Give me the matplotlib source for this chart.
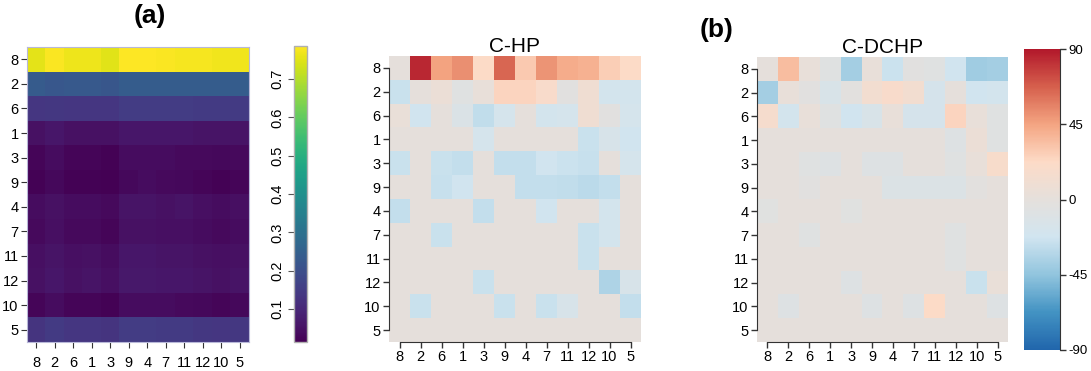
import numpy as np
import matplotlib
matplotlib.use("Agg")
import matplotlib.pyplot as plt
from matplotlib.colors import LinearSegmentedColormap
from matplotlib.ticker import FuncFormatter

plt.rcParams['font.family'] = ['Liberation Sans', 'DejaVu Sans']

labels = ['8', '2', '6', '1', '3', '9', '4', '7', '11', '12', '10', '5']

# panel (a) left: proportions (viridis)
prop = np.array([
    [0.755, 0.780, 0.765, 0.765, 0.750, 0.785, 0.785, 0.780, 0.775, 0.775, 0.770, 0.770],
    [0.235, 0.225, 0.230, 0.230, 0.220, 0.240, 0.240, 0.240, 0.240, 0.240, 0.240, 0.240],
    [0.135, 0.140, 0.135, 0.135, 0.135, 0.150, 0.150, 0.150, 0.150, 0.145, 0.145, 0.145],
    [0.050, 0.060, 0.050, 0.050, 0.050, 0.060, 0.060, 0.060, 0.060, 0.055, 0.055, 0.055],
    [0.025, 0.040, 0.025, 0.025, 0.020, 0.040, 0.040, 0.040, 0.035, 0.035, 0.030, 0.035],
    [0.020, 0.030, 0.020, 0.020, 0.014, 0.030, 0.040, 0.035, 0.030, 0.025, 0.020, 0.025],
    [0.040, 0.050, 0.040, 0.040, 0.035, 0.055, 0.055, 0.050, 0.055, 0.045, 0.040, 0.045],
    [0.035, 0.045, 0.035, 0.035, 0.025, 0.050, 0.050, 0.045, 0.045, 0.040, 0.035, 0.040],
    [0.045, 0.055, 0.045, 0.050, 0.040, 0.060, 0.060, 0.055, 0.055, 0.050, 0.045, 0.050],
    [0.050, 0.060, 0.050, 0.055, 0.045, 0.065, 0.065, 0.060, 0.060, 0.055, 0.050, 0.055],
    [0.025, 0.040, 0.025, 0.025, 0.020, 0.040, 0.040, 0.040, 0.035, 0.030, 0.025, 0.030],
    [0.130, 0.145, 0.135, 0.135, 0.130, 0.150, 0.150, 0.145, 0.145, 0.140, 0.135, 0.140],
])

# C-HP differences
chp = np.array([
    [0, 85, 45, 52, 22, 65, 30, 50, 42, 40, 28, 22],
    [-25, 0, 6, -7, 3, 25, 25, 18, -4, 10, -20, -20],
    [4, -22, 0, -12, -28, -18, 0, -20, -18, 10, -4, -18],
    [0, 0, 0, 0, -18, 0, 0, 0, 0, -25, -15, -22],
    [-25, 0, -25, -27, 0, -27, -27, -22, -24, -26, 0, -18],
    [0, 0, -26, -22, 0, 0, -27, -27, -28, -30, -27, 0],
    [-27, 0, 0, 0, -27, 0, 0, -22, 0, 0, -20, 0],
    [0, 0, -25, 0, 0, 0, 0, 0, 0, -25, -20, 0],
    [0, 0, 0, 0, 0, 0, 0, 0, 0, -25, 0, 0],
    [0, 0, 0, 0, -25, 0, 0, 0, 0, 0, -35, -15],
    [0, -25, 0, 0, 0, -25, 0, -25, -15, 0, 0, -27],
    [0, 0, 0, 0, 0, 0, 0, 0, 0, 0, 0, 0],
])

# C-DCHP differences
cdchp = np.array([
    [0, 35, 3, -7, -38, 3, -24, -4, -7, -22, -40, -38],
    [-38, 3, -4, -14, -3, 12, 18, 12, -17, 0, -22, -20],
    [15, -20, 3, -7, -22, -14, 3, -17, -17, 25, 3, -7],
    [0, 0, 0, 0, 0, 0, 0, 0, 0, -8, 6, -6],
    [0, 0, -7, -8, 0, -8, -8, 0, 0, -7, 3, 17],
    [0, 0, -4, 0, 0, 0, -10, -10, -10, -11, -3, 0],
    [-5, 0, 0, 0, -5, 0, 0, 0, 0, 0, 0, 0],
    [0, 0, -7, 0, 0, 0, 0, 0, 0, -7, 0, 0],
    [0, 0, 0, 0, 0, 0, 0, 0, 0, -7, 0, 0],
    [0, 0, 0, 0, -8, 0, 0, 0, 0, 0, -25, 4],
    [0, -8, 0, 0, 0, -8, 0, -8, 22, 0, 0, -8],
    [0, 0, 0, 0, 0, 0, 0, 0, 0, 0, 0, 0],
])

rdbu = LinearSegmentedColormap.from_list('rdbu', [
    "#2166AC", "#4393C3", "#92C5DE", "#D1E5F0", "#E5E0DC",
    "#FDDBC7", "#F4A582", "#D6604D", "#B2182B"])

W, H = 1091, 371
fig = plt.figure(figsize=(W / 100, H / 100), dpi=100)

def box(x0, y0, x1, y1):
    return [x0 / W, 1 - y1 / H, (x1 - x0) / W, (y1 - y0) / H]

fs = 10.5

# ---- (a) proportions
ax0 = fig.add_axes(box(27, 47, 249, 342))
im0 = ax0.imshow(prop, cmap='viridis', vmin=0.014, vmax=0.786, aspect='auto')
ax0.set_xticks(range(12), labels, fontsize=fs)
ax0.set_yticks(range(12), labels, fontsize=fs)
ax0.tick_params(axis='x', length=4, width=0.8, color='#333333', pad=6)
ax0.tick_params(axis='y', length=4, width=0.8, color='#333333', pad=2)
for s in ax0.spines.values():
    s.set_color('#b8b8d8')
    s.set_linewidth(0.8)

cax0 = fig.add_axes(box(294, 46, 307, 342))
cb0 = fig.colorbar(im0, cax=cax0, ticks=[0.1, 0.2, 0.3, 0.4, 0.5, 0.6, 0.7])
cax0.yaxis.set_ticks_position('left')
cax0.yaxis.set_label_position('left')
cax0.tick_params(length=4, width=0.8, color='#555555', labelsize=fs, pad=3)
for t in cax0.get_yticklabels():
    t.set_rotation(90)
    t.set_va('center')
cb0.outline.set_edgecolor('#b0b0b0')
cb0.outline.set_linewidth(1)

fig.text(150 / W, 1 - 16 / H, '(a)', ha='center', va='center', fontsize=19, fontweight='bold')
fig.text(717 / W, 1 - 30 / H, '(b)', ha='center', va='center', fontsize=19, fontweight='bold')

# ---- C-HP and C-DCHP
def diff_panel(rect, data, title):
    ax = fig.add_axes(rect)
    im = ax.imshow(data, cmap=rdbu, vmin=-90, vmax=90, aspect='auto')
    ax.set_xticks(range(12), labels, fontsize=fs)
    ax.set_yticks(range(12), labels, fontsize=fs)
    ax.tick_params(length=4, width=1, color='#333333', pad=2)
    ax.spines['top'].set_visible(False)
    ax.spines['right'].set_visible(False)
    ax.spines['left'].set_bounds(0, 11)
    ax.spines['bottom'].set_bounds(0, 11)
    ax.spines['left'].set_color('#333333')
    ax.spines['bottom'].set_color('#333333')
    ax.set_title(title, fontsize=15, pad=0)
    return im

diff_panel(box(389, 56, 641, 342), chp, 'C-HP')
im2 = diff_panel(box(757, 57, 1008, 342), cdchp, 'C-DCHP')

cax2 = fig.add_axes(box(1024, 49, 1060, 350))
cb2 = fig.colorbar(im2, cax=cax2, ticks=[-90, -45, 0, 45, 90],
                   format=FuncFormatter(lambda v, p: '%d' % v))
cax2.tick_params(length=4, width=1, color='#333333', labelsize=fs - 1, pad=2)
cb2.outline.set_visible(False)
cax2.spines['right'].set_visible(True)
cax2.spines['right'].set_color('#333333')

fig.savefig('out.png', dpi=100)
